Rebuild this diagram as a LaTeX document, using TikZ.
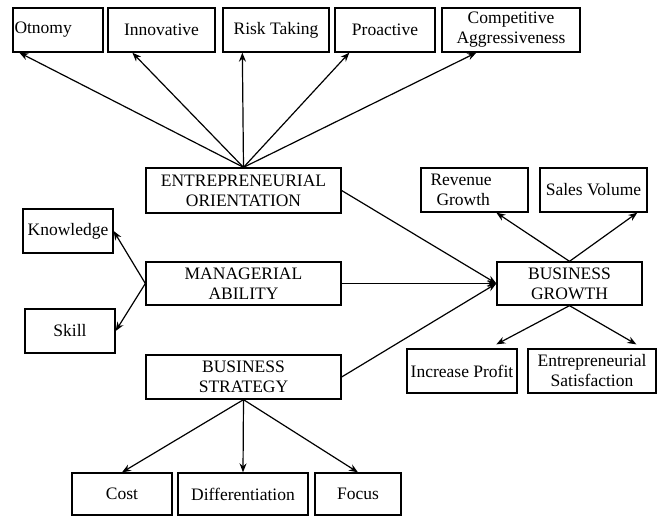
\documentclass[tikz,border=0pt]{standalone}
\usepackage{fontspec}
\setmainfont{Liberation Serif}
\usetikzlibrary{calc,arrows.meta,positioning}

\begin{document}
\begin{tikzpicture}[x=1pt, y=-1pt,
 box/.style={draw, line width=1.3pt, minimum height=44pt, inner sep=1pt, align=center, font=\fontsize{17.5}{20}\selectfont},
 arr/.style={-{Stealth[length=9pt,width=7pt]}, line width=1.2pt}]
 \useasboundingbox (0,0) rectangle (662,515);

 % Top row
 \node[box, minimum width=90pt, text width=87pt, align=left] (oto) at (58,30) {Otnomy};
 \node[box, minimum width=107pt] (inno) at (161.5,30) {Innovative};
 \node[box, minimum width=106pt] (risk) at (276,30) {Risk Taking};
 \node[box, minimum width=100pt] (proa) at (385,30) {Proactive};
 \node[box, minimum width=138pt] (comp) at (511,30) {Competitive\\Aggressiveness};

 % Middle column
 \node[box, minimum width=195pt, minimum height=45pt] (eo) at (243.5,190.5) {ENTREPRENEURIAL\\ORIENTATION};
 \node[box, minimum width=195pt, minimum height=43pt] (ma) at (243.5,283.5) {MANAGERIAL\\ABILITY};
 \node[box, minimum width=195pt] (bs) at (243.5,377) {BUSINESS\\STRATEGY};

 % Left side
 \node[box, minimum width=90pt] (know) at (68,231) {Knowledge};
 \node[box, minimum width=90pt] (skill) at (70,331) {Skill};

 % Right side
 \node[box, minimum width=145pt, minimum height=43pt] (bg) at (569.5,283.5) {BUSINESS\\GROWTH};
 \node[box, minimum width=107pt, text width=100pt, align=left] (rev) at (474.5,190) {\hspace*{6pt}Revenue\\\hspace*{12pt}Growth};
 \node[box, minimum width=107pt] (sales) at (593.5,190) {Sales Volume};
 \node[box, minimum width=110pt] (prof) at (462,371) {Increase Profit};
 \node[box, minimum width=128pt] (sat) at (592,371) {Entrepreneurial\\Satisfaction};

 % Bottom row
 \node[box, minimum width=100pt, minimum height=42pt] (cost) at (122,494) {Cost};
 \node[box, minimum width=130pt, minimum height=42pt] (diff) at (243,494) {Differentiation};
 \node[box, minimum width=86pt, minimum height=42pt] (focus) at (358,494) {Focus};

 % Arrows
 \foreach \n/\d in {oto/7,inno/25,risk/20,proa/15,comp/35}
 \draw[arr] (eo.north) -- ($(\n.south west)+(\d,0)$);

 \draw[arr] (ma.west) -- (know.east);
 \draw[arr] (ma.west) -- (skill.east);

 \draw[arr] (eo.east) -- (bg.west);
 \draw[arr] (ma.east) -- (bg.west);
 \draw[arr] (bs.east) -- (bg.west);

 \draw[arr] (bg.north) -- ($(rev.south west)+(76,0)$);
 \draw[arr] (bg.north) -- ($(sales.south west)+(98,0)$);
 \draw[arr] (bg.south) -- ($(prof.north west)+(90,-4)$);
 \draw[arr] (bg.south) -- ($(sat.north west)+(109,-4)$);

 \foreach \n in {cost,diff,focus}
 \draw[arr] (bs.south) -- (\n.north);
\end{tikzpicture}
\end{document}
